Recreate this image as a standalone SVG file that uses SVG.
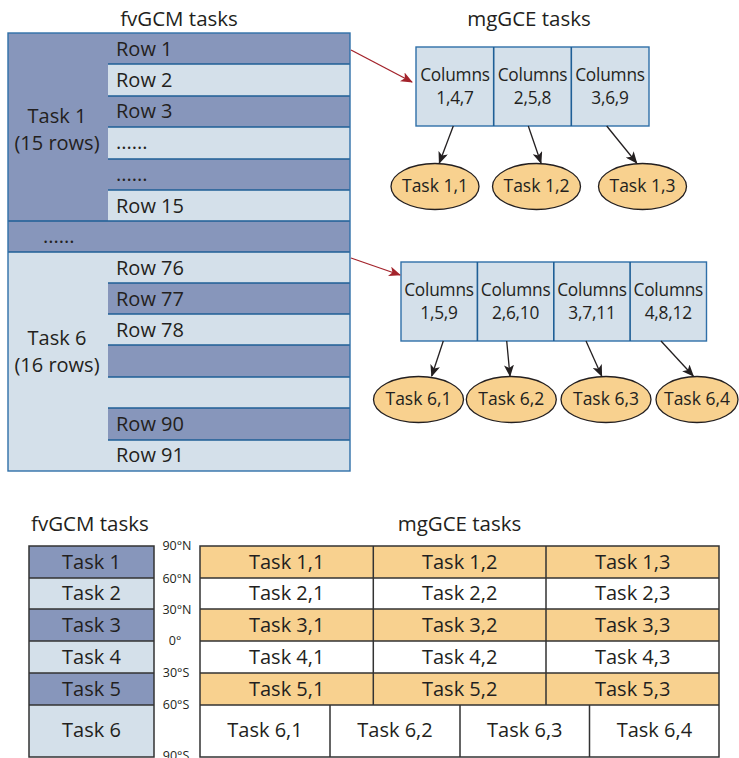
<svg xmlns="http://www.w3.org/2000/svg" width="739" height="758" viewBox="0 0 739 758">
<defs>
<style>
text{font-family:"Open Sans","Liberation Sans",sans-serif;fill:#231f20;}
.t{font-size:20px;}
.ttl{font-size:20.5px;}
.col{font-size:17.3px;text-anchor:middle;letter-spacing:-0.2px;}
.ell{font-size:17.5px;text-anchor:middle;}
.lat{font-size:12.5px;text-anchor:middle;}
.c{text-anchor:middle;}
.dk{fill:#8796bb;}
.lt{fill:#d4e0ea;}
.sep{stroke:#1f5f96;stroke-width:1.6;fill:none;}
.bx{fill:#d4e0ea;stroke:#2f6fa8;stroke-width:1.4;}
.ov{fill:#f8d18f;stroke:#231f20;stroke-width:1.3;}
.gl{stroke:#333;stroke-width:1.5;fill:none;}
.or{fill:#f8d18f;}
.wh{fill:#ffffff;}
.red{stroke:#a3232b;stroke-width:1.3;fill:none;marker-end:url(#ar);}
.blk{stroke:#231f20;stroke-width:1.3;fill:none;marker-end:url(#ab);}
</style>
<marker id="ar" markerWidth="12" markerHeight="10" refX="11" refY="5" orient="auto" markerUnits="userSpaceOnUse"><path d="M0,0 L12,5 L0,10 L3,5 z" fill="#a3232b"/></marker>
<marker id="ab" markerWidth="12" markerHeight="10" refX="11" refY="5" orient="auto" markerUnits="userSpaceOnUse"><path d="M0,0 L12,5 L0,10 L3,5 z" fill="#231f20"/></marker>
</defs>

<text class="ttl c" x="179" y="26">fvGCM tasks</text>
<text class="ttl c" x="529" y="26">mgGCE tasks</text>

<g id="fvgcm-rows">
<rect class="dk" x="8" y="33" width="342" height="219"/>
<rect class="lt" x="8" y="252" width="342" height="219"/>
<rect class="lt" x="108" y="64" width="242" height="32"/>
<rect class="lt" x="108" y="127" width="242" height="32"/>
<rect class="lt" x="108" y="190" width="242" height="31"/>
<rect class="dk" x="8" y="221" width="342" height="31"/>
<rect class="dk" x="108" y="283" width="242" height="31"/>
<rect class="dk" x="108" y="345" width="242" height="32"/>
<rect class="dk" x="108" y="408" width="242" height="32"/>
<path class="sep" d="M108,64H350M108,96H350M108,127H350M108,159H350M108,190H350M8,221H350M8,252H350M108,283H350M108,314H350M108,345H350M108,377H350M108,408H350M108,440H350"/>
<rect x="8" y="33" width="342" height="438" fill="none" stroke="#2f6fa8" stroke-width="1.4"/>
<text class="t" x="116" y="56">Row 1</text>
<text class="t" x="116" y="87">Row 2</text>
<text class="t" x="116" y="118">Row 3</text>
<text class="t" x="116" y="149">......</text>
<text class="t" x="116" y="181">......</text>
<text class="t" x="116" y="213">Row 15</text>
<text class="t" x="43" y="243">......</text>
<text class="t" x="116" y="275">Row 76</text>
<text class="t" x="116" y="306">Row 77</text>
<text class="t" x="116" y="337">Row 78</text>
<text class="t" x="116" y="431">Row 90</text>
<text class="t" x="116" y="462">Row 91</text>
<text class="t c" x="57" y="123">Task 1</text>
<text class="t c" x="57" y="150">(15 rows)</text>
<text class="t c" x="57" y="345">Task 6</text>
<text class="t c" x="57" y="372">(16 rows)</text>
</g>

<g id="mg-box1">
<rect class="bx" x="416" y="47" width="233" height="79"/>
<path class="sep" d="M493.7,47V126M571.3,47V126"/>
<text class="col" x="455" y="81">Columns</text><text class="col" x="455" y="104">1,4,7</text>
<text class="col" x="532.5" y="81">Columns</text><text class="col" x="532.5" y="104">2,5,8</text>
<text class="col" x="610" y="81">Columns</text><text class="col" x="610" y="104">3,6,9</text>
</g>
<g id="t11"><ellipse class="ov" cx="435" cy="186.5" rx="44" ry="23"/><text class="ell" x="435" y="192">Task 1,1</text></g>
<g id="t12"><ellipse class="ov" cx="536.5" cy="186.5" rx="44" ry="23"/><text class="ell" x="536.5" y="192">Task 1,2</text></g>
<g id="t13"><ellipse class="ov" cx="642.5" cy="186.5" rx="44" ry="23"/><text class="ell" x="642.5" y="192">Task 1,3</text></g>

<g id="mg-box6">
<rect class="bx" x="401" y="262" width="305.5" height="79"/>
<path class="sep" d="M477.4,262V341M553.8,262V341M630.1,262V341"/>
<text class="col" x="439" y="296">Columns</text><text class="col" x="439" y="319">1,5,9</text>
<text class="col" x="515.6" y="296">Columns</text><text class="col" x="515.6" y="319">2,6,10</text>
<text class="col" x="592" y="296">Columns</text><text class="col" x="592" y="319">3,7,11</text>
<text class="col" x="668.3" y="296">Columns</text><text class="col" x="668.3" y="319">4,8,12</text>
</g>
<g id="t61"><ellipse class="ov" cx="418.5" cy="399.5" rx="45" ry="23"/><text class="ell" x="418.5" y="405">Task 6,1</text></g>
<g id="t62"><ellipse class="ov" cx="511.3" cy="399.5" rx="45" ry="23"/><text class="ell" x="511.3" y="405">Task 6,2</text></g>
<g id="t63"><ellipse class="ov" cx="606" cy="399.5" rx="45" ry="23"/><text class="ell" x="606" y="405">Task 6,3</text></g>
<g id="t64"><ellipse class="ov" cx="697" cy="399.5" rx="41" ry="23"/><text class="ell" x="697" y="405">Task 6,4</text></g>

<g id="connectors">
<line class="red" x1="351" y1="50" x2="412" y2="82"/>
<line class="red" x1="351" y1="258" x2="400" y2="275"/>
<line class="blk" x1="453.3" y1="126" x2="439.3" y2="163"/>
<line class="blk" x1="528.3" y1="126" x2="541" y2="163"/>
<line class="blk" x1="606.7" y1="126" x2="636.7" y2="163"/>
<line class="blk" x1="443.3" y1="341" x2="431.7" y2="376"/>
<line class="blk" x1="506.7" y1="341" x2="510" y2="376"/>
<line class="blk" x1="586" y1="341" x2="601.7" y2="376"/>
<line class="blk" x1="661" y1="341" x2="693.3" y2="376"/>
</g>

<text class="ttl" x="31" y="531">fvGCM tasks</text>
<text class="ttl c" x="459.5" y="531">mgGCE tasks</text>

<g id="fv-table">
<rect class="dk" x="29" y="546" width="125" height="32"/>
<rect class="lt" x="29" y="578" width="125" height="31"/>
<rect class="dk" x="29" y="609" width="125" height="32"/>
<rect class="lt" x="29" y="641" width="125" height="32"/>
<rect class="dk" x="29" y="673" width="125" height="32"/>
<rect class="lt" x="29" y="705" width="125" height="52"/>
<path class="gl" d="M29,578H154M29,609H154M29,641H154M29,673H154M29,705H154"/>
<rect class="gl" x="29" y="546" width="125" height="211"/>
<text class="t c" x="91.5" y="569">Task 1</text>
<text class="t c" x="91.5" y="600">Task 2</text>
<text class="t c" x="91.5" y="632">Task 3</text>
<text class="t c" x="91.5" y="664">Task 4</text>
<text class="t c" x="91.5" y="696">Task 5</text>
<text class="t c" x="91.5" y="737">Task 6</text>
</g>

<g id="latitudes">
<text class="lat" x="177" y="550">90°N</text>
<text class="lat" x="177" y="582.5">60°N</text>
<text class="lat" x="177" y="614">30°N</text>
<text class="lat" x="175" y="645">0°</text>
<text class="lat" x="176" y="677">30°S</text>
<text class="lat" x="176" y="709">60°S</text>
<text class="lat" x="176" y="760">90°S</text>
</g>

<g id="mg-table">
<rect class="or" x="200" y="546" width="519" height="32"/>
<rect class="wh" x="200" y="578" width="519" height="31"/>
<rect class="or" x="200" y="609" width="519" height="32"/>
<rect class="wh" x="200" y="641" width="519" height="32"/>
<rect class="or" x="200" y="673" width="519" height="32"/>
<rect class="wh" x="200" y="705" width="519" height="52"/>
<path class="gl" d="M200,578H719M200,609H719M200,641H719M200,673H719M200,705H719M373.3,546V705M546,546V705M330,705V757M460,705V757M589.5,705V757"/>
<rect class="gl" x="200" y="546" width="519" height="211"/>
<text class="t c" x="286.7" y="569">Task 1,1</text><text class="t c" x="459.7" y="569">Task 1,2</text><text class="t c" x="632.7" y="569">Task 1,3</text>
<text class="t c" x="286.7" y="600">Task 2,1</text><text class="t c" x="459.7" y="600">Task 2,2</text><text class="t c" x="632.7" y="600">Task 2,3</text>
<text class="t c" x="286.7" y="632">Task 3,1</text><text class="t c" x="459.7" y="632">Task 3,2</text><text class="t c" x="632.7" y="632">Task 3,3</text>
<text class="t c" x="286.7" y="664">Task 4,1</text><text class="t c" x="459.7" y="664">Task 4,2</text><text class="t c" x="632.7" y="664">Task 4,3</text>
<text class="t c" x="286.7" y="696">Task 5,1</text><text class="t c" x="459.7" y="696">Task 5,2</text><text class="t c" x="632.7" y="696">Task 5,3</text>
<text class="t c" x="265" y="737">Task 6,1</text><text class="t c" x="395" y="737">Task 6,2</text><text class="t c" x="524.8" y="737">Task 6,3</text><text class="t c" x="654.4" y="737">Task 6,4</text>
</g>
</svg>
